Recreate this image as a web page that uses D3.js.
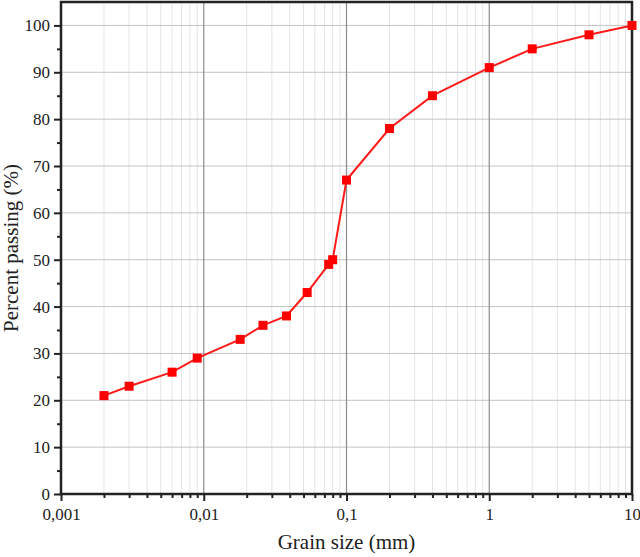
<!DOCTYPE html>
<html>
<head>
<meta charset="utf-8">
<script src="https://cdn.jsdelivr.net/npm/d3@7"></script>
<style>
  body { margin: 0; background: #fff; }
  svg text { font-family: "Liberation Serif", "Times New Roman", serif; fill: #222; }
</style>
</head>
<body>
<div id="chart-area"></div>
<script>
// data
let grainSize = [0.002, 0.003, 0.006, 0.009, 0.018, 0.026, 0.038, 0.053, 0.075, 0.08, 0.1, 0.2, 0.4, 1, 2, 5, 10];
let passing   = [21, 23, 26, 29, 33, 36, 38, 43, 49, 50, 67, 78, 85, 91, 95, 98, 100];
let xTicks = [0.001, 0.01, 0.1, 1, 10];
let xTickLabels = ["0,001", "0,01", "0,1", "1", "10"];
let yTicks = [0, 10, 20, 30, 40, 50, 60, 70, 80, 90, 100];

let W = 640, H = 557;
let m = {top: 2, right: 8, bottom: 63, left: 61};
let w = W - m.left - m.right;
let h = H - m.top - m.bottom;

let svg = d3.select("#chart-area")
    .append("svg")
    .attr("width", W)
    .attr("height", H);

let g = svg.append("g")
    .attr("transform", "translate(" + m.left + "," + m.top + ")");

// scales
let x = d3.scaleLog()
    .domain([0.001, 10])
    .range([0, w]);

let y = d3.scaleLinear()
    .domain([0, 105])
    .range([h, 0]);

// minor x values 2..9 of each decade
let minorX = [];
xTicks.slice(0, -1).forEach(function(d){
  for (let k = 2; k <= 9; k++) minorX.push(d * k);
});
let minorY = d3.range(5, 105, 10);

// grid: minor vertical
g.selectAll(".minor-grid")
    .data(minorX)
    .enter()
    .append("line")
      .attr("x1", function(d){ return x(d); })
      .attr("x2", function(d){ return x(d); })
      .attr("y1", 0)
      .attr("y2", h)
      .attr("stroke", "#e4e4e4")
      .attr("stroke-width", 1);

// grid: horizontal
g.selectAll(".y-grid")
    .data(yTicks.slice(1))
    .enter()
    .append("line")
      .attr("x1", 0)
      .attr("x2", w)
      .attr("y1", function(d){ return y(d); })
      .attr("y2", function(d){ return y(d); })
      .attr("stroke", "#c4c4c4")
      .attr("stroke-width", 1);

// grid: major vertical
g.selectAll(".x-grid")
    .data(xTicks.slice(1, -1))
    .enter()
    .append("line")
      .attr("x1", function(d){ return x(d); })
      .attr("x2", function(d){ return x(d); })
      .attr("y1", 0)
      .attr("y2", h)
      .attr("stroke", "#8c8c8c")
      .attr("stroke-width", 1.2);

// axes
let xAxisCall = d3.axisBottom(x)
    .tickValues(xTicks)
    .tickSize(7)
    .tickPadding(7)
    .tickFormat(function(d, i){ return xTickLabels[i]; });
let xAxis = g.append("g")
    .attr("class", "x axis")
    .attr("transform", "translate(0," + h + ")")
    .call(xAxisCall);

let xMinor = g.append("g")
    .attr("transform", "translate(0," + h + ")")
    .call(d3.axisBottom(x).tickValues(minorX).tickSize(4).tickFormat(""));

let yAxisCall = d3.axisLeft(y)
    .tickValues(yTicks)
    .tickSize(7)
    .tickPadding(4);
let yAxis = g.append("g")
    .attr("class", "y axis")
    .call(yAxisCall);

let yMinor = g.append("g")
    .call(d3.axisLeft(y).tickValues(minorY).tickSize(4).tickFormat(""));

[xAxis, yAxis, xMinor, yMinor].forEach(function(a){
  a.attr("font-family", null).attr("font-size", null);
  a.select(".domain").remove();
  a.selectAll(".tick line").attr("stroke", "#222").attr("stroke-width", 2);
  a.selectAll(".tick text")
    .style("font-size", "17px")
    .style("font-family", "'Liberation Serif', 'Times New Roman', serif")
    .style("fill", "#222");
});

// frame
g.append("rect")
    .attr("x", 0)
    .attr("y", 0)
    .attr("width", w)
    .attr("height", h)
    .attr("fill", "none")
    .attr("stroke", "#222")
    .attr("stroke-width", 2.5);

// line
let line = d3.line()
    .x(function(d, i){ return x(grainSize[i]); })
    .y(function(d){ return y(d); });

g.append("path")
    .datum(passing)
    .attr("d", line)
    .attr("fill", "none")
    .attr("stroke", "#ff1a1a")
    .attr("stroke-width", 2);

// markers
let s = 9;
g.selectAll(".marker")
    .data(passing)
    .enter()
    .append("rect")
      .attr("x", function(d, i){ return x(grainSize[i]) - s / 2; })
      .attr("y", function(d){ return y(d) - s / 2; })
      .attr("width", s)
      .attr("height", s)
      .attr("fill", "#ff0000");

// labels
g.append("text")
    .attr("x", w / 2)
    .attr("y", h + 55)
    .style("font-size", "21px")
    .attr("text-anchor", "middle")
    .text("Grain size (mm)");

g.append("text")
    .attr("x", -(h / 2))
    .attr("y", -43)
    .style("font-size", "21px")
    .attr("text-anchor", "middle")
    .attr("transform", "rotate(-90)")
    .text("Percent passing (%)");
</script>
</body>
</html>
